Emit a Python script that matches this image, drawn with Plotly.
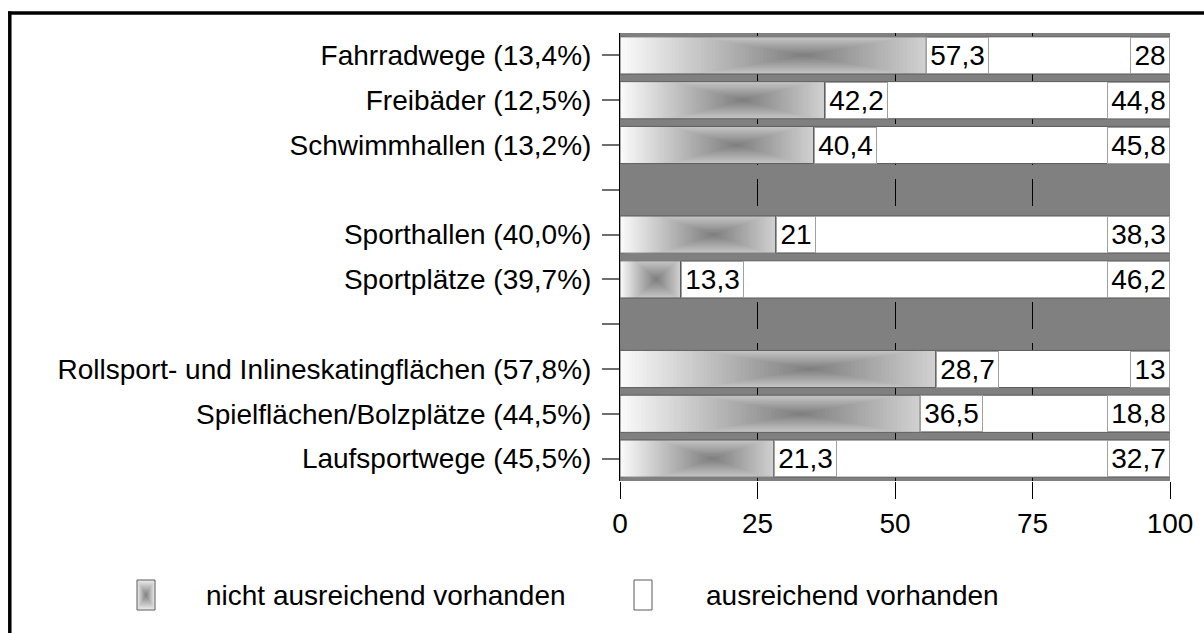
import plotly.graph_objects as go

# ---------------- data ----------------
categories = [
    "Fahrradwege (13,4%)",
    "Freibäder (12,5%)",
    "Schwimmhallen (13,2%)",
    "Sporthallen (40,0%)",
    "Sportplätze (39,7%)",
    "Rollsport- und Inlineskatingflächen (57,8%)",
    "Spielflächen/Bolzplätze (44,5%)",
    "Laufsportwege (45,5%)",
]
# axis order including the two empty separator rows
category_order = [
    "Fahrradwege (13,4%)",
    "Freibäder (12,5%)",
    "Schwimmhallen (13,2%)",
    " ",
    "Sporthallen (40,0%)",
    "Sportplätze (39,7%)",
    "  ",
    "Rollsport- und Inlineskatingflächen (57,8%)",
    "Spielflächen/Bolzplätze (44,5%)",
    "Laufsportwege (45,5%)",
]
# drawn length of the gradient bars
bar_nicht = [55.7, 37.2, 35.2, 28.3, 11.0, 57.4, 54.6, 28.0]
# printed label values
label_nicht = ["57,3", "42,2", "40,4", "21", "13,3", "28,7", "36,5", "21,3"]
label_ausr = ["28", "44,8", "45,8", "38,3", "46,2", "13", "18,8", "32,7"]
x_ticks = [0, 25, 50, 75, 100]
legend_names = ["nicht ausreichend vorhanden", "ausreichend vorhanden"]

FONT = "Liberation Sans, Arial, sans-serif"
FS = 28
BAR_W = 0.83

# plot-area geometry (pixels)
W, H = 1204, 633
L_M, R_M, T_M, B_M = 620, 34, 33, 152
PW = W - L_M - R_M
PH = H - T_M - B_M

fig = go.Figure()

# ---------- gradient bars ("nicht ausreichend") as nested overlay bars ----------
N = 50
CF = 0.60      # horizontal position of gradient centre (fraction of bar)
AF = 0.58      # horizontal scale of the rectangular gradient
SMAX = 1.0 / AF
DARK, LIGHT = 125, 250


def grey(s):
    t = min(max(s / SMAX, 0.0), 1.0)
    g = int(round(DARK + (LIGHT - DARK) * t))
    return f"rgb({g},{g},{g})"


for k in range(N):
    s = SMAX * (1 - k / N)
    bases, lens, widths = [], [], []
    for L in bar_nicht:
        c = CF * L
        A = AF * c
        x0 = max(0.0, c - s * A)
        x1 = min(L, c + s * A)
        bases.append(x0)
        lens.append(x1 - x0)
        widths.append(2 * min(s, 1.0) * BAR_W / 2)
    fig.add_trace(go.Bar(
        y=categories, x=lens, base=bases, width=widths, orientation="h",
        marker=dict(color=grey(s), line=dict(width=0)),
        showlegend=False, hoverinfo="skip",
    ))

# outline of gradient bars
fig.add_trace(go.Bar(
    y=categories, x=bar_nicht, base=[0] * len(bar_nicht), width=BAR_W,
    orientation="h", name=legend_names[0],
    marker=dict(color="rgba(0,0,0,0)", line=dict(color="#5a5a5a", width=1)),
    showlegend=False, hoverinfo="skip",
))
# white remainder ("ausreichend")
fig.add_trace(go.Bar(
    y=categories, x=[100 - v for v in bar_nicht], base=bar_nicht, width=BAR_W,
    orientation="h", name=legend_names[1],
    marker=dict(color="white", line=dict(color="#5a5a5a", width=1)),
    showlegend=False, hoverinfo="skip",
))

# ---------- value labels ----------
def box_w(txt):
    return 38 if len(txt) <= 2 else 61

for cat, L, t in zip(categories, bar_nicht, label_nicht):
    fig.add_annotation(x=L, y=cat, xref="x", yref="y", text=t, showarrow=False,
                       xanchor="left", yanchor="middle", width=box_w(t), height=35,
                       bgcolor="white", bordercolor="#a0a0a0", borderwidth=1, borderpad=0,
                       font=dict(family=FONT, size=FS, color="black"), align="center")
for cat, t in zip(categories, label_ausr):
    fig.add_annotation(x=100, y=cat, xref="x", yref="y", text=t, showarrow=False,
                       xanchor="right", yanchor="middle", width=box_w(t), height=35,
                       bgcolor="white", bordercolor="#a0a0a0", borderwidth=1, borderpad=0,
                       font=dict(family=FONT, size=FS, color="black"), align="center")

# ---------- manual legend ----------
def px2x(px):
    return (px - L_M) / PW


def px2y(py):
    return 1 - (py - T_M) / PH


LEG_Y = 595
ICON_W, ICON_H = 18, 30

# gradient icon
ix0, ix1 = 137, 137 + ICON_W
icx = ix0 + ICON_W / 2
M = 16
for k in range(M):
    f = 1 - k / M
    hw = ICON_W / 2 * f
    hh = ICON_H / 2 * f
    g = int(round(DARK + (235 - DARK) * f))
    fig.add_shape(type="rect", xref="paper", yref="paper",
                  x0=px2x(icx - hw), x1=px2x(icx + hw),
                  y0=px2y(LEG_Y + hh), y1=px2y(LEG_Y - hh),
                  fillcolor=f"rgb({g},{g},{g})", line=dict(width=0), layer="above")
fig.add_shape(type="rect", xref="paper", yref="paper",
              x0=px2x(ix0), x1=px2x(ix1), y0=px2y(LEG_Y + ICON_H / 2), y1=px2y(LEG_Y - ICON_H / 2),
              line=dict(color="#5a5a5a", width=1), layer="above")
fig.add_annotation(x=px2x(204), y=px2y(LEG_Y), xref="paper", yref="paper",
                   text=legend_names[0], showarrow=False, xanchor="left", yanchor="middle",
                   font=dict(family=FONT, size=FS, color="black"))
# white icon
wx0 = 634
fig.add_shape(type="rect", xref="paper", yref="paper",
              x0=px2x(wx0), x1=px2x(wx0 + ICON_W), y0=px2y(LEG_Y + ICON_H / 2), y1=px2y(LEG_Y - ICON_H / 2),
              fillcolor="white", line=dict(color="#5a5a5a", width=1), layer="above")
fig.add_annotation(x=px2x(704), y=px2y(LEG_Y), xref="paper", yref="paper",
                   text=legend_names[1], showarrow=False, xanchor="left", yanchor="middle",
                   font=dict(family=FONT, size=FS, color="black"))

# ---------- outer frame ----------
fig.add_shape(type="line", xref="paper", yref="paper",
              x0=px2x(8), x1=px2x(1210), y0=px2y(13), y1=px2y(13),
              line=dict(color="black", width=3.5))
fig.add_shape(type="line", xref="paper", yref="paper",
              x0=px2x(9.8), x1=px2x(9.8), y0=px2y(11.5), y1=px2y(640),
              line=dict(color="black", width=3.5))

fig.update_layout(
    width=W, height=H,
    margin=dict(l=L_M, r=R_M, t=T_M, b=B_M, pad=0),
    barmode="overlay",
    paper_bgcolor="white",
    plot_bgcolor="#808080",
    showlegend=False,
    font=dict(family=FONT, size=FS, color="black"),
    xaxis=dict(
        range=[0, 100], tickvals=x_ticks, ticktext=[str(v) for v in x_ticks],
        showgrid=True, gridcolor="black", gridwidth=1,
        griddash="9px,14px,18px,0px",
        zeroline=False, showline=False,
        ticks="outside", ticklen=17, tickcolor="black", tickwidth=1,
        tickfont=dict(family=FONT, size=FS, color="black"),
        fixedrange=True,
    ),
    yaxis=dict(
        categoryorder="array", categoryarray=category_order,
        range=[len(category_order) - 0.5, -0.5],
        showgrid=False, zeroline=False,
        showline=True, linecolor="black", linewidth=1,
        ticks="outside", ticklen=17, tickcolor="#6e6e6e", tickwidth=1.5,
        ticklabelstandoff=5,
        tickfont=dict(family=FONT, size=FS, color="black"),
        fixedrange=True,
    ),
)

fig.write_html("out.html", config={"displayModeBar": False},
               post_script="document.body.style.margin='0';document.body.style.overflow='hidden';")
